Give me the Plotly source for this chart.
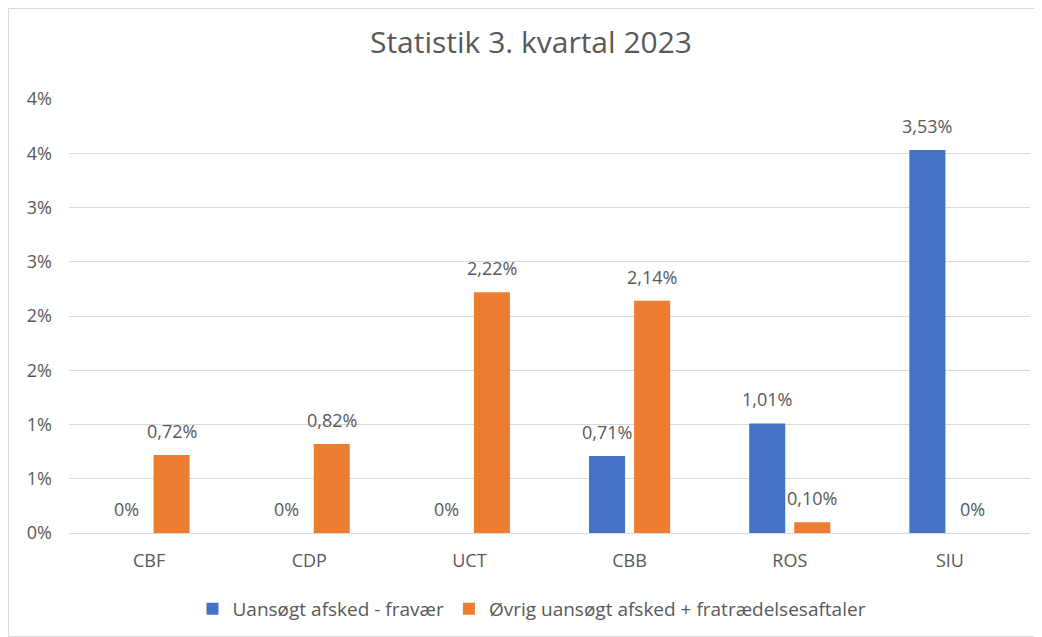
import plotly.graph_objects as go

categories = ["CBF", "CDP", "UCT", "CBB", "ROS", "SIU"]
series_names = ["Uansøgt afsked - fravær", "Øvrig uansøgt afsked + fratrædelsesaftaler"]
blue_values = [0.0, 0.0, 0.0, 0.71, 1.01, 3.53]
orange_values = [0.72, 0.82, 2.22, 2.14, 0.10, 0.0]
blue_labels = ["0%", "0%", "0%", "0,71%", "1,01%", "3,53%"]
orange_labels = ["0,72%", "0,82%", "2,22%", "2,14%", "0,10%", "0%"]
tick_vals = [0, 0.5, 1.0, 1.5, 2.0, 2.5, 3.0, 3.5, 4.0]
tick_text = ["0%", "1%", "1%", "2%", "2%", "3%", "3%", "4%", "4%"]

BLUE = "#4472C4"
ORANGE = "#ED7D31"
TXT = "#595959"
FONT = "Open Sans"
FS = 18

# page body has an 8px margin, so the figure is sized to fill the rest
W, H = 1034, 629
ML, MR, MT, MB = 61, 12, 91, 104
PW, PH = W - ML - MR, H - MT - MB

fig = go.Figure()
fig.add_trace(go.Bar(x=categories, y=blue_values, name=series_names[0],
                     marker=dict(color=BLUE, line=dict(width=0))))
fig.add_trace(go.Bar(x=categories, y=orange_values, name=series_names[1],
                     marker=dict(color=ORANGE, line=dict(width=0))))

ann = []
for vals, labs, shift in ((blue_values, blue_labels, -22.5), (orange_values, orange_labels, 22.5)):
    for c, v, t in zip(categories, vals, labs):
        ann.append(dict(x=c, y=v, text=t, showarrow=False, xshift=shift, yshift=24,
                        xanchor="center", yanchor="middle",
                        font=dict(family=FONT, size=FS, color=TXT)))

def px2paper_x(px):
    return (px - ML) / PW

def px2paper_y(py):
    return (H - MB - py) / PH

fig.update_layout(
    width=W, height=H,
    margin=dict(l=ML, r=MR, t=MT, b=MB),
    paper_bgcolor="white", plot_bgcolor="white",
    barmode="group", bargap=0.4375, bargroupgap=0.2,
    title=dict(text="Statistik 3. kvartal 2023", x=523 / W, xref="container", xanchor="center",
               y=1 - 34 / H, yref="container", yanchor="middle",
               font=dict(family=FONT, size=30, color=TXT)),
    font=dict(family=FONT, size=FS, color=TXT),
    showlegend=True,
    legend=dict(orientation="h", x=524 / W, xref="container", xanchor="center",
                y=1 - 601 / H, yref="container", yanchor="middle",
                font=dict(family=FONT, size=19, color=TXT),
                itemsizing="constant", traceorder="normal"),
    xaxis=dict(showgrid=False, showline=False, zeroline=False, ticks="",
               tickfont=dict(family=FONT, size=FS, color=TXT), ticklabelstandoff=15),
    yaxis=dict(range=[0, 4.0], tickvals=tick_vals, ticktext=tick_text,
               showgrid=True, gridcolor="#D9D9D9", gridwidth=1,
               zeroline=True, zerolinecolor="#D9D9D9", zerolinewidth=1,
               showline=False, ticks="",
               tickfont=dict(family=FONT, size=FS, color=TXT), ticklabelstandoff=16),
    annotations=ann,
    shapes=[dict(type="rect", xref="paper", yref="paper",
                 x0=px2paper_x(0.5), x1=px2paper_x(W - 0.5),
                 y0=px2paper_y(H - 0.5), y1=px2paper_y(0.5),
                 line=dict(color="#D9D9D9", width=1), fillcolor="rgba(0,0,0,0)",
                 layer="below")],
)

fig.write_html("out.html")
